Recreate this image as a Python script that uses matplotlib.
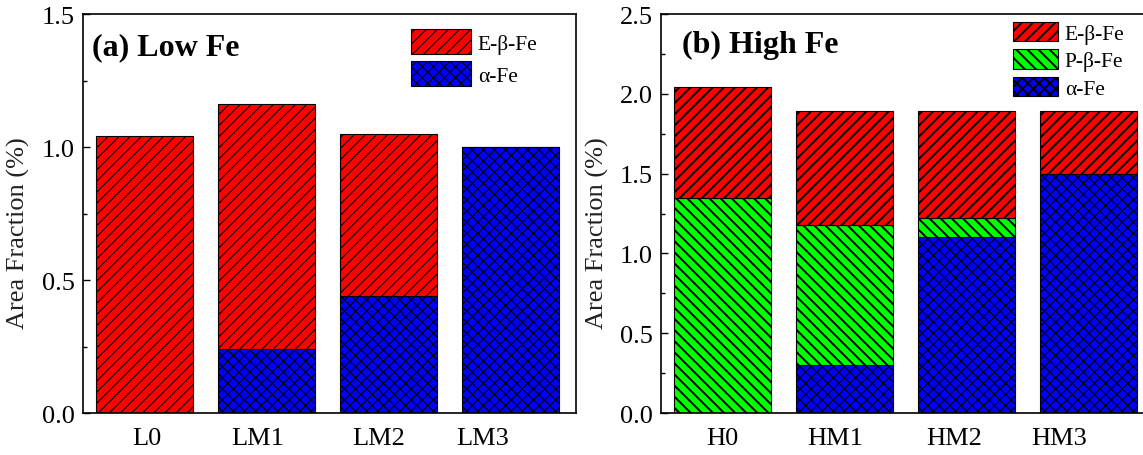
import matplotlib
matplotlib.use("Agg")
import matplotlib.pyplot as plt
from matplotlib.ticker import MultipleLocator

plt.rcParams.update({
    "font.family": ["Liberation Serif", "DejaVu Serif"],
    "font.size": 19,
    "axes.linewidth": 1.2,
    "hatch.linewidth": 0.8,
})

# ─── Data ────────────────────────────────────────────────────────────────────
low_samples = ["L0", "LM1", "LM2", "LM3"]
low_alpha = [0.00, 0.24, 0.44, 1.00]
low_ebeta = [1.04, 0.92, 0.61, 0.00]

high_samples = ["H0", "HM1", "HM2", "HM3"]
high_alpha = [0.00, 0.30, 1.10, 1.50]
high_pbeta = [1.35, 0.88, 0.12, 0.00]
high_ebeta = [0.69, 0.71, 0.67, 0.39]

RED, GREEN, BLUE = "#ff0000", "#00ff00", "#0000ff"
W = 0.8
# tick labels sit a bit off the bar centres in the original
low_shift = [0.02, -0.07, -0.08, -0.23]
high_shift = [0.0, -0.08, -0.1, -0.24]

fig = plt.figure(figsize=(11.43, 4.56), dpi=100)
axL = fig.add_axes([0.0726, 0.0921, 0.4313, 0.875])
axR = fig.add_axes([0.5783, 0.0921, 0.4313, 0.875])


def style(ax, ymax):
    ax.set_xlim(-0.504, 3.537)
    ax.set_ylim(0, ymax)
    ax.yaxis.set_major_locator(MultipleLocator(0.5))
    ax.yaxis.set_minor_locator(MultipleLocator(0.25))
    ax.yaxis.set_major_formatter(plt.FuncFormatter(lambda v, _: f"{v:.1f}"))
    ax.tick_params(axis="y", which="both", direction="in", left=True, right=False, pad=6)
    ax.tick_params(axis="y", which="major", length=5, width=1)
    ax.tick_params(axis="y", which="minor", length=3, width=1)
    ax.tick_params(axis="x", length=0, pad=10)
    ax.set_ylabel("Area Fraction (%)", color="#222222")


# ─── (a) Low Fe ──────────────────────────────────────────────────────────────
x = range(len(low_samples))
axL.bar(x, low_alpha, W, color=BLUE, edgecolor="black", linewidth=0.8,
        hatch="xxx", label="α-Fe")
axL.bar(x, low_ebeta, W, bottom=low_alpha, color=RED, edgecolor="black",
        linewidth=0.8, hatch="///", label="E-β-Fe")
style(axL, 1.5)
axL.set_xticks([i + s for i, s in zip(x, low_shift)])
axL.set_xticklabels(low_samples)
axL.yaxis.set_label_coords(-0.108, 0.454)
axL.text(0.018, 0.90, "(a) Low Fe", transform=axL.transAxes, fontsize=23,
         fontweight="bold", va="baseline")
h, l = axL.get_legend_handles_labels()
axL.legend(h[::-1], l[::-1], loc="upper left", bbox_to_anchor=(0.3596, 0.934),
           bbox_transform=fig.transFigure, frameon=False, fontsize=15.5,
           borderpad=0, handlelength=2.8, handleheight=1.4,
           labelspacing=0.35, handletextpad=0.3, borderaxespad=0)

# ─── (b) High Fe ─────────────────────────────────────────────────────────────
x = range(len(high_samples))
bot_p = high_alpha
bot_e = [a + p for a, p in zip(high_alpha, high_pbeta)]
axR.bar(x, high_alpha, W, color=BLUE, edgecolor="black", linewidth=0.8,
        hatch="xxx", label="α-Fe")
plt.rcParams["hatch.linewidth"] = 1.4
axR.bar(x, high_pbeta, W, bottom=bot_p, color=GREEN, edgecolor="black",
        linewidth=0.8, hatch="\\\\\\", label="P-β-Fe")
axR.bar(x, high_ebeta, W, bottom=bot_e, color=RED, edgecolor="black",
        linewidth=0.8, hatch="///", label="E-β-Fe")
style(axR, 2.5)
axR.set_xticks([i + s for i, s in zip(x, high_shift)])
axR.set_xticklabels(high_samples)
axR.yaxis.set_label_coords(-0.105, 0.454)
axR.text(0.043, 0.905, "(b) High Fe", transform=axR.transAxes, fontsize=23,
         fontweight="bold", va="baseline")
h, l = axR.get_legend_handles_labels()
axR.legend(h[::-1], l[::-1], loc="upper left", bbox_to_anchor=(0.8863, 0.9496),
           bbox_transform=fig.transFigure, frameon=False, fontsize=15.5,
           borderpad=0, handlelength=2.1, handleheight=1.0,
           labelspacing=0.25, handletextpad=0.3, borderaxespad=0)

fig.savefig("out.png", dpi=100)
